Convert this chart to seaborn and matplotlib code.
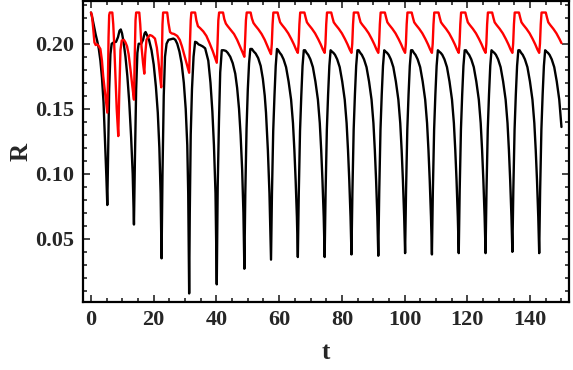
import numpy as np
import pandas as pd
import seaborn as sns
import matplotlib
matplotlib.use("Agg")
import matplotlib.pyplot as plt
from matplotlib.ticker import MultipleLocator

# values (t, R)
black_t = [0.0, 0.5, 1.0, 1.5, 2.0, 2.5, 3.0, 3.5, 4.0, 4.5, 4.9, 5.2,
           5.5, 5.8, 6.2, 6.6, 7.2, 8.0, 8.6, 9.1, 9.5, 9.9, 10.4, 11.0, 11.6, 12.2, 12.8, 13.3, 13.7,
           14.0, 14.4, 14.8, 15.2, 16.0, 16.6, 17.1, 17.4, 17.8, 18.5, 19.3, 20.0, 20.7, 21.3, 21.8, 22.2, 22.5,
           22.8, 23.2, 23.6, 24.1, 24.7, 25.5, 26.3, 26.9, 27.5, 28.2, 28.9, 29.6, 30.2, 30.7, 31.0, 31.3,
           31.5, 31.8, 32.2, 32.7, 33.2, 33.7, 34.3, 34.8, 35.6, 36.4, 37.4, 38.1, 38.7, 39.2, 39.7, 40.1,
           40.4, 40.8, 41.2, 41.7, 42.3, 43.0, 43.6, 44.4, 45.2, 46.0, 46.6, 47.2, 47.7, 48.2, 48.6, 48.9,
           49.2, 49.6, 50.0, 50.4, 50.8, 51.3, 51.9, 52.5, 53.3, 54.1, 54.8, 55.4, 55.8, 56.4, 56.9, 57.4,
           57.7, 58.1, 58.5, 58.9, 59.3, 59.7, 60.2, 60.7, 61.4, 62.2, 63.0, 63.8, 64.4, 64.85, 65.25, 65.65, 65.95,
           66.25, 66.65, 67.05, 67.45, 67.85, 68.25, 68.75, 69.25, 69.95, 70.75, 71.55, 72.35, 72.95, 73.4, 73.8, 74.2, 74.5,
           74.8, 75.2, 75.6, 76.0, 76.4, 76.8, 77.3, 77.8, 78.5, 79.3, 80.1, 80.9, 81.5, 81.95, 82.35, 82.75, 83.05,
           83.35, 83.75, 84.15, 84.55, 84.95, 85.35, 85.85, 86.35, 87.05, 87.85, 88.65, 89.45, 90.05, 90.5, 90.9, 91.3, 91.6,
           91.9, 92.3, 92.7, 93.1, 93.5, 93.9, 94.4, 94.9, 95.6, 96.4, 97.2, 98.0, 98.6, 99.05, 99.45, 99.85, 100.15,
           100.45, 100.85, 101.25, 101.65, 102.05, 102.45, 102.95, 103.45, 104.15, 104.95, 105.75, 106.55, 107.15, 107.6, 108.0, 108.4, 108.7,
           109.0, 109.4, 109.8, 110.2, 110.6, 111.0, 111.5, 112.0, 112.7, 113.5, 114.3, 115.1, 115.7, 116.15, 116.55, 116.95, 117.25,
           117.55, 117.95, 118.35, 118.75, 119.15, 119.55, 120.05, 120.55, 121.25, 122.05, 122.85, 123.65, 124.25, 124.7, 125.1, 125.5, 125.8,
           126.1, 126.5, 126.9, 127.3, 127.7, 128.1, 128.6, 129.1, 129.8, 130.6, 131.4, 132.2, 132.8, 133.25, 133.65, 134.05, 134.35,
           134.65, 135.05, 135.45, 135.85, 136.25, 136.65, 137.15, 137.65, 138.35, 139.15, 139.95, 140.75, 141.35, 141.8, 142.2, 142.6, 142.9,
           143.2, 143.6, 144.0, 144.4, 144.8, 145.2, 145.7, 146.2, 146.9, 147.7, 148.5, 149.3, 150.0]
black_r = [0.224, 0.219, 0.213, 0.207, 0.202, 0.196, 0.187, 0.174, 0.155, 0.124, 0.098, 0.076,
           0.120, 0.165, 0.192, 0.200, 0.201, 0.2015, 0.205, 0.210, 0.211, 0.208, 0.201, 0.190, 0.175, 0.155, 0.128, 0.100, 0.061,
           0.110, 0.165, 0.193, 0.200, 0.200, 0.203, 0.208, 0.209, 0.207, 0.203, 0.195, 0.184, 0.167, 0.147, 0.120, 0.085, 0.035,
           0.100, 0.160, 0.190, 0.200, 0.203, 0.2035, 0.204, 0.203, 0.200, 0.194, 0.185, 0.170, 0.150, 0.122, 0.085, 0.008,
           0.070, 0.130, 0.165, 0.190, 0.2015, 0.201, 0.1995, 0.199, 0.198, 0.1965, 0.187, 0.170, 0.148, 0.122, 0.085, 0.015,
           0.090, 0.140, 0.178, 0.195, 0.195, 0.1945, 0.193, 0.190, 0.185, 0.177, 0.166, 0.150, 0.130, 0.103, 0.070, 0.027,
           0.085, 0.135, 0.165, 0.185, 0.196, 0.196, 0.194, 0.1925, 0.189, 0.183, 0.173, 0.160, 0.147, 0.118, 0.085, 0.034,
           0.085, 0.133, 0.160, 0.183, 0.196, 0.195, 0.193, 0.1915, 0.188, 0.182, 0.171, 0.157, 0.139, 0.118, 0.095, 0.067, 0.036,
           0.085, 0.133, 0.160, 0.183, 0.195, 0.195, 0.193, 0.1915, 0.188, 0.182, 0.171, 0.157, 0.139, 0.118, 0.095, 0.067, 0.036,
           0.086, 0.134, 0.161, 0.183, 0.195, 0.194, 0.193, 0.1915, 0.188, 0.182, 0.171, 0.157, 0.139, 0.118, 0.095, 0.067, 0.038,
           0.086, 0.134, 0.161, 0.183, 0.195, 0.195, 0.193, 0.1915, 0.188, 0.182, 0.171, 0.157, 0.139, 0.118, 0.095, 0.067, 0.037,
           0.086, 0.134, 0.161, 0.183, 0.195, 0.194, 0.193, 0.1915, 0.188, 0.182, 0.171, 0.157, 0.139, 0.118, 0.095, 0.067, 0.039,
           0.087, 0.134, 0.161, 0.183, 0.195, 0.195, 0.193, 0.1915, 0.188, 0.182, 0.171, 0.157, 0.139, 0.118, 0.095, 0.067, 0.038,
           0.087, 0.134, 0.161, 0.183, 0.195, 0.194, 0.193, 0.1915, 0.188, 0.182, 0.171, 0.157, 0.139, 0.118, 0.095, 0.067, 0.039,
           0.087, 0.134, 0.161, 0.183, 0.195, 0.195, 0.193, 0.1915, 0.188, 0.182, 0.171, 0.157, 0.139, 0.118, 0.095, 0.067, 0.039,
           0.087, 0.134, 0.161, 0.183, 0.195, 0.194, 0.193, 0.1915, 0.188, 0.182, 0.171, 0.157, 0.139, 0.118, 0.095, 0.067, 0.040,
           0.087, 0.134, 0.161, 0.183, 0.195, 0.195, 0.193, 0.1915, 0.188, 0.182, 0.171, 0.157, 0.139, 0.118, 0.095, 0.067, 0.039,
           0.087, 0.134, 0.161, 0.183, 0.195, 0.194, 0.193, 0.1915, 0.188, 0.182, 0.171, 0.157, 0.136]

red_t = [0.0, 0.3, 0.7, 1.1, 1.5, 2.0, 2.5, 3.0, 3.5, 3.9, 4.5, 5.2,
         5.4, 5.6, 5.8, 6.0, 6.8, 7.1, 7.4, 7.8, 8.2, 8.7, 9.0, 9.4, 9.8, 10.5, 11.0, 11.5, 12.0, 12.6, 13.2, 13.7,
         13.95, 14.2, 14.4, 15.4, 15.7, 16.1, 16.6, 17.0, 17.3, 17.7, 18.2, 18.8, 19.5, 20.4, 21.0, 21.5, 22.0, 22.4,
         22.6, 22.8, 23.0, 24.3, 24.7, 25.2, 25.7, 26.5, 27.5, 28.3, 29.0, 29.8, 30.6, 31.3,
         31.55, 31.8, 32.0, 33.2, 33.6, 34.1, 34.8, 35.8, 36.8, 37.8, 38.8, 39.5, 40.1,
         40.35, 40.6, 40.85, 42.1, 42.5, 43.0, 43.6, 44.6, 45.6, 46.6, 47.6, 48.3, 48.9,
         49.15, 49.4, 49.65, 50.9, 51.3, 51.8, 52.4, 53.4, 54.4, 55.4, 56.2, 56.9,
         57.4, 57.65, 57.9, 58.15, 59.5, 59.9, 60.3, 60.9, 61.9, 62.9, 63.9, 64.7, 65.4,
         65.95, 66.2, 66.45, 66.7, 68.05, 68.45, 68.85, 69.45, 70.45, 71.45, 72.45, 73.25, 73.95,
         74.5, 74.75, 75.0, 75.25, 76.6, 77.0, 77.4, 78.0, 79.0, 80.0, 81.0, 81.8, 82.5,
         83.05, 83.3, 83.55, 83.8, 85.15, 85.55, 85.95, 86.55, 87.55, 88.55, 89.55, 90.35, 91.05,
         91.6, 91.85, 92.1, 92.35, 93.7, 94.1, 94.5, 95.1, 96.1, 97.1, 98.1, 98.9, 99.6,
         100.15, 100.4, 100.65, 100.9, 102.25, 102.65, 103.05, 103.65, 104.65, 105.65, 106.65, 107.45, 108.15,
         108.7, 108.95, 109.2, 109.45, 110.8, 111.2, 111.6, 112.2, 113.2, 114.2, 115.2, 116.0, 116.7,
         117.25, 117.5, 117.75, 118.0, 119.35, 119.75, 120.15, 120.75, 121.75, 122.75, 123.75, 124.55, 125.25,
         125.8, 126.05, 126.3, 126.55, 127.9, 128.3, 128.7, 129.3, 130.3, 131.3, 132.3, 133.1, 133.8,
         134.35, 134.6, 134.85, 135.1, 136.45, 136.85, 137.25, 137.85, 138.85, 139.85, 140.85, 141.65, 142.35,
         142.9, 143.15, 143.4, 143.65, 145.0, 145.4, 145.8, 146.4, 147.4, 148.4, 149.4, 150.0]
red_r = [0.224, 0.222, 0.212, 0.201, 0.199, 0.1995, 0.198, 0.196, 0.187, 0.175, 0.162, 0.147,
         0.170, 0.205, 0.222, 0.224, 0.224, 0.215, 0.200, 0.175, 0.150, 0.129, 0.160, 0.195, 0.2025, 0.203, 0.201, 0.198, 0.192, 0.180, 0.167, 0.157,
         0.190, 0.218, 0.224, 0.224, 0.215, 0.198, 0.185, 0.177, 0.192, 0.203, 0.205, 0.2067, 0.206, 0.204, 0.197, 0.187, 0.175, 0.1665,
         0.190, 0.215, 0.224, 0.224, 0.216, 0.209, 0.208, 0.2075, 0.206, 0.203, 0.198, 0.191, 0.184, 0.1777,
         0.200, 0.218, 0.224, 0.224, 0.218, 0.2135, 0.212, 0.2095, 0.206, 0.2005, 0.1945, 0.1895, 0.1854,
         0.200, 0.218, 0.224, 0.224, 0.219, 0.2155, 0.2135, 0.2105, 0.2075, 0.203, 0.1975, 0.1935, 0.190,
         0.203, 0.218, 0.224, 0.224, 0.2195, 0.216, 0.214, 0.211, 0.2075, 0.203, 0.1985, 0.1945,
         0.192, 0.200, 0.215, 0.224, 0.224, 0.220, 0.2165, 0.2145, 0.2115, 0.208, 0.2035, 0.1995, 0.1955,
         0.193, 0.200, 0.215, 0.224, 0.224, 0.220, 0.2165, 0.2145, 0.2115, 0.208, 0.2035, 0.1995, 0.1955,
         0.193, 0.200, 0.215, 0.224, 0.224, 0.220, 0.2165, 0.2145, 0.2115, 0.208, 0.2035, 0.1995, 0.1955,
         0.193, 0.200, 0.215, 0.224, 0.224, 0.220, 0.2165, 0.2145, 0.2115, 0.208, 0.2035, 0.1995, 0.1955,
         0.193, 0.200, 0.215, 0.224, 0.224, 0.220, 0.2165, 0.2145, 0.2115, 0.208, 0.2035, 0.1995, 0.1955,
         0.193, 0.200, 0.215, 0.224, 0.224, 0.220, 0.2165, 0.2145, 0.2115, 0.208, 0.2035, 0.1995, 0.1955,
         0.193, 0.200, 0.215, 0.224, 0.224, 0.220, 0.2165, 0.2145, 0.2115, 0.208, 0.2035, 0.1995, 0.1955,
         0.193, 0.200, 0.215, 0.224, 0.224, 0.220, 0.2165, 0.2145, 0.2115, 0.208, 0.2035, 0.1995, 0.1955,
         0.193, 0.200, 0.215, 0.224, 0.224, 0.220, 0.2165, 0.2145, 0.2115, 0.208, 0.2035, 0.1995, 0.1955,
         0.193, 0.200, 0.215, 0.224, 0.224, 0.220, 0.2165, 0.2145, 0.2115, 0.208, 0.2035, 0.1995, 0.1955,
         0.193, 0.200, 0.215, 0.224, 0.224, 0.220, 0.2165, 0.2145, 0.2115, 0.208, 0.2035, 0.2005]

df = pd.concat([
    pd.DataFrame({"t": black_t, "R": black_r, "s": "black"}),
    pd.DataFrame({"t": red_t, "R": red_r, "s": "red"}),
])

sns.set_style("ticks")
plt.rcParams["font.family"] = ["Liberation Serif", "DejaVu Serif"]
plt.rcParams["font.weight"] = "bold"

fig = plt.figure(figsize=(5.73, 3.70), dpi=100)
ax = fig.add_axes([0.144, 0.184, 0.849, 0.812])

sns.lineplot(data=df, x="t", y="R", hue="s", palette={"black": "black", "red": "red"},
             sort=False, estimator=None, linewidth=1.7, legend=False, ax=ax)

ax.set_xlim(-2.7, 152.4)
ax.set_ylim(0.0015, 0.2325)
ax.xaxis.set_major_locator(MultipleLocator(20))
ax.xaxis.set_minor_locator(MultipleLocator(5))
ax.yaxis.set_major_locator(MultipleLocator(0.05))
ax.yaxis.set_minor_locator(MultipleLocator(0.01))
ax.set_yticks([0.05, 0.10, 0.15, 0.20])
ax.set_yticklabels(["0.05", "0.10", "0.15", "0.20"])
ax.tick_params(which="both", direction="in", top=True, right=True, width=1.2, labelsize=16, pad=6)
ax.tick_params(which="major", length=5)
ax.tick_params(which="minor", length=3)
for sp in ax.spines.values():
    sp.set_linewidth(1.6)
    sp.set_color("black")

ax.set_xlabel("t", fontsize=18, fontweight="bold", labelpad=8)
ax.set_ylabel("R", fontsize=18, fontweight="bold", labelpad=2)

fig.savefig("out.png", dpi=100)
